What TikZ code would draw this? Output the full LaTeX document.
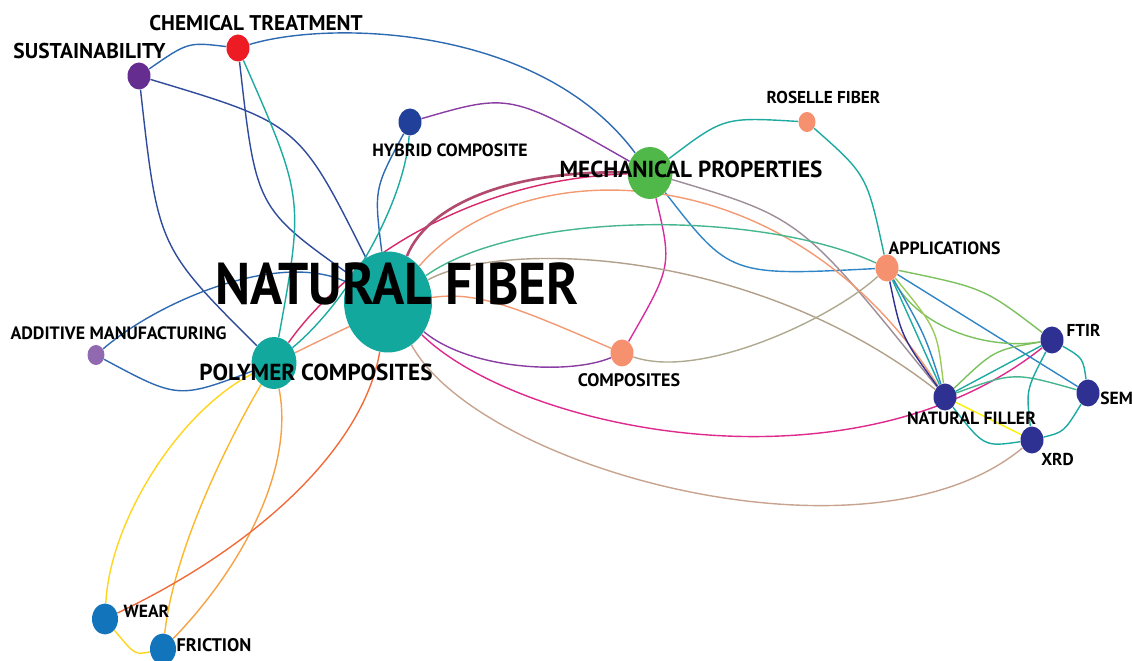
\documentclass[tikz,border=0pt]{standalone}
\usepackage{fontspec}
\setmainfont{PT Sans}
\newfontfamily\hubfont{PT Sans}[FakeStretch=0.905]
\usetikzlibrary{shapes.geometric}
\pgfdeclarelayer{background}
\pgfsetlayers{background,main}

% node colours
\definecolor{fibteal}{HTML}{13A89E}
\definecolor{mechgreen}{HTML}{50B848}
\definecolor{chemred}{HTML}{ED1C24}
\definecolor{sustpurple}{HTML}{662D91}
\definecolor{hybblue}{HTML}{21409A}
\definecolor{salmon}{HTML}{F5916F}
\definecolor{lavender}{HTML}{9069B0}
\definecolor{navy}{HTML}{2E3192}
\definecolor{wearblue}{HTML}{1275BC}
% link colours
\definecolor{eblue}{HTML}{2E6AB1}
\definecolor{enavy}{HTML}{2F4B9C}
\definecolor{eteal}{HTML}{1DAAA1}
\definecolor{epurple}{HTML}{8A3DA3}
\definecolor{ecrimson}{HTML}{D8276A}
\definecolor{emauve}{HTML}{B04A6E}
\definecolor{eorange}{HTML}{F39A72}
\definecolor{egray}{HTML}{9C8D98}
\definecolor{ebrown}{HTML}{B3A08A}
\definecolor{egreen}{HTML}{7DC15E}
\definecolor{etealgreen}{HTML}{45B68E}
\definecolor{emagenta}{HTML}{D62D9E}
\definecolor{epink}{HTML}{DE2A8C}
\definecolor{eyellow}{HTML}{FFD51F}
\definecolor{eamber}{HTML}{FDB72A}
\definecolor{eorangedark}{HTML}{F7A145}
\definecolor{ered}{HTML}{F26C3A}
\definecolor{ebeige}{HTML}{AEA98F}
\definecolor{esalmongray}{HTML}{C8A490}
\definecolor{elemon}{HTML}{FFF200}
\definecolor{elime}{HTML}{9BCB5B}
\definecolor{esky}{HTML}{2F85C5}

\begin{document}
\begin{tikzpicture}[
    x=0.02cm, y=-0.02cm,
    kw/.style={ellipse, inner sep=0pt, draw=none},
    hub/.style={minimum width=1.76cm, minimum height=2.02cm},
    big/.style={minimum width=0.9cm, minimum height=1.04cm},
    large/.style={minimum width=0.52cm, minimum height=0.62cm},
    mid/.style={minimum width=0.46cm, minimum height=0.54cm},
    small/.style={minimum width=0.34cm, minimum height=0.4cm},
    tag/.style={inner sep=0pt, text=black, font=\fontsize{#1}{#1}\selectfont\bfseries},
    hubtag/.style={inner sep=0pt, text=black, font=\hubfont\fontsize{#1}{#1}\selectfont\bfseries},
    link/.style={line width=0.8pt}
  ]
    \useasboundingbox (0,0) rectangle (1132,661);

    % Keywords
    \node[kw, hub, fill=fibteal] (nf) at (388,302) {};
    \node[kw, big, fill=fibteal] (pc) at (274,363) {};
    \node[kw, big, fill=mechgreen] (mech) at (650,173) {};
    \node[kw, mid, fill=chemred] (chem) at (238,48) {};
    \node[kw, mid, fill=sustpurple] (sust) at (139,76) {};
    \node[kw, mid, fill=hybblue] (hyb) at (410,122) {};
    \node[kw, small, fill=salmon] (ros) at (807,122) {};
    \node[kw, mid, fill=salmon] (app) at (887,268) {};
    \node[kw, mid, fill=salmon] (comp) at (622,353) {};
    \node[kw, small, fill=lavender] (add) at (96,355) {};
    \node[kw, mid, fill=navy] (ftir) at (1052,340) {};
    \node[kw, mid, fill=navy] (sem) at (1088,393) {};
    \node[kw, mid, fill=navy] (filler) at (945,397) {};
    \node[kw, mid, fill=navy] (xrd) at (1032,440) {};
    \node[kw, large, fill=wearblue] (wear) at (105,619) {};
    \node[kw, large, fill=wearblue] (fric) at (163,649) {};

    % Labels
    \node[hubtag=33.5] (nfL) at ([shift={(9,-18)}]nf) {NATURAL FIBER};
    \node[tag=13.2] (pcL) at ([shift={(42,9)}]pc) {POLYMER COMPOSITES};
    \node[tag=13.2] (mechL) at ([shift={(41,-3.5)}]mech) {MECHANICAL PROPERTIES};
    \node[tag=12.1] (chemL) at ([shift={(18,-24.5)}]chem) {CHEMICAL TREATMENT};
    \node[tag=12.2] (sustL) at ([shift={(-49.5,-24.5)}]sust) {SUSTAINABILITY};
    \node[tag=10.1] (hybL) at ([shift={(40,28.5)}]hyb) {HYBRID COMPOSITE};
    \node[tag=9.8] (rosL) at ([shift={(16.5,-25)}]ros) {ROSELLE FIBER};
    \node[tag=10.1] (appL) at ([shift={(57.5,-20)}]app) {APPLICATIONS};
    \node[tag=10.3] (compL) at ([shift={(7,27.5)}]comp) {COMPOSITES};
    \node[tag=10.2] (addL) at ([shift={(22.5,-22)}]add) {ADDITIVE MANUFACTURING};
    \node[tag=9.8] (ftirL) at ([shift={(31.5,-10)}]ftir) {FTIR};
    \node[tag=10, anchor=west] (semL) at ([shift={(12,5.5)}]sem) {SEM};
    \node[tag=10.1] (fillerL) at ([shift={(26.5,21)}]filler) {NATURAL FILLER};
    \node[tag=9.8] (xrdL) at ([shift={(25.5,19)}]xrd) {XRD};
    \node[tag=10] (wearL) at ([shift={(41.5,-8)}]wear) {WEAR};
    \node[tag=10.4] (fricL) at ([shift={(51,-3.5)}]fric) {FRICTION};

    \begin{pgfonlayer}{background}
    % Left side
    \draw[link, eblue] (sust) .. controls (188,42) .. (chem);
    \draw[link, eblue] (chem) .. controls (330,20) and (540,25) .. (mech);
    \draw[link, enavy] (sust) .. controls (299,124) .. (nf);
    \draw[link, enavy] (sust) .. controls (158,247) .. (pc);
    \draw[link, enavy] (chem) .. controls (256,208) .. (nf);
    \draw[link, eteal] (chem) .. controls (304,198) .. (pc);
    \draw[link, epurple] (hyb) .. controls (510,93) .. (mech);
    \draw[link, eblue] (hyb) .. controls (374,189) .. (nf);
    \draw[link, eteal] (hyb) .. controls (405,200) and (350,300) .. (pc);
    \draw[link, ecrimson] (pc) .. controls (340,270) and (460,180) .. (mech);
    \draw[link, emauve, line width=1.5pt] (nf) .. controls (430,200) and (520,170) .. (mech);
    \draw[link, eblue] (add) .. controls (160,300) and (280,250) .. (nf);
    \draw[link, eblue] (add) .. controls (178,399) .. (pc);
    \draw[link, eorange] (pc) .. controls (448,278) .. (comp);

    % Middle
    \draw[link, eteal] (mech) .. controls (724,117) .. (ros);
    \draw[link, eteal] (ros) .. controls (867,175) .. (app);
    \draw[link, esky] (mech) .. controls (730,276) .. (app);
    \draw[link, emagenta] (mech) .. controls (672,266) .. (comp);
    \draw[link, egray] (mech) .. controls (801,218) .. (filler);
    \draw[link, eorange] (nf) .. controls (520,150) and (790,150) .. (filler);
    \draw[link, ebrown] (nf) .. controls (500,240) and (750,245) .. (filler);
    \draw[link, etealgreen] (nf) .. controls (520,210) and (760,210) .. (app);
    \draw[link, ebeige] (comp) .. controls (700,380) and (830,320) .. (app);
    \draw[link, epurple] (nf) .. controls (470,370) and (570,375) .. (comp);
    \draw[link, epink] (nf) .. controls (520,430) and (850,500) .. (ftir);
    \draw[link, esalmongray] (nf) .. controls (480,470) and (870,575) .. (xrd);

    % Bottom
    \draw[link, eyellow] (pc) .. controls (180,410) and (110,520) .. (wear);
    \draw[link, eamber] (pc) .. controls (240,420) and (175,540) .. (fric);
    \draw[link, eorangedark] (pc) .. controls (295,470) and (240,570) .. (fric);
    \draw[link, ered] (nf) .. controls (365,440) and (270,540) .. (wear);
    \draw[link, eyellow] (wear) .. controls (135,655) .. (fric);

    % Right cluster
    \draw[link, egreen] (app) .. controls (984,288) .. (ftir);
    \draw[link, esky] (app) -- (sem);
    \draw[link, egreen] (app) .. controls (920,330) and (990,350) .. (ftir);
    \draw[link, navy] (app) .. controls (901,336) .. (filler);
    \draw[link, eteal] (app) -- (filler);
    \draw[link, elime] (app) .. controls (937,329) .. (filler);
    \draw[link, esky] (app) .. controls (925,335) .. (filler);
    \draw[link, egreen] (filler) .. controls (994,350) .. (ftir);
    \draw[link, eteal] (filler) -- (ftir);
    \draw[link, etealgreen] (filler) .. controls (1014,372) .. (sem);
    \draw[link, elemon] (filler) -- (xrd);
    \draw[link, eteal] (filler) .. controls (984,447) .. (xrd);
    \draw[link, eteal] (ftir) .. controls (1083,358) .. (sem);
    \draw[link, eteal] (ftir) .. controls (1026,390) .. (xrd);
    \draw[link, eteal] (sem) .. controls (1064,432) .. (xrd);
    \end{pgfonlayer}
  \end{tikzpicture}
\end{document}
